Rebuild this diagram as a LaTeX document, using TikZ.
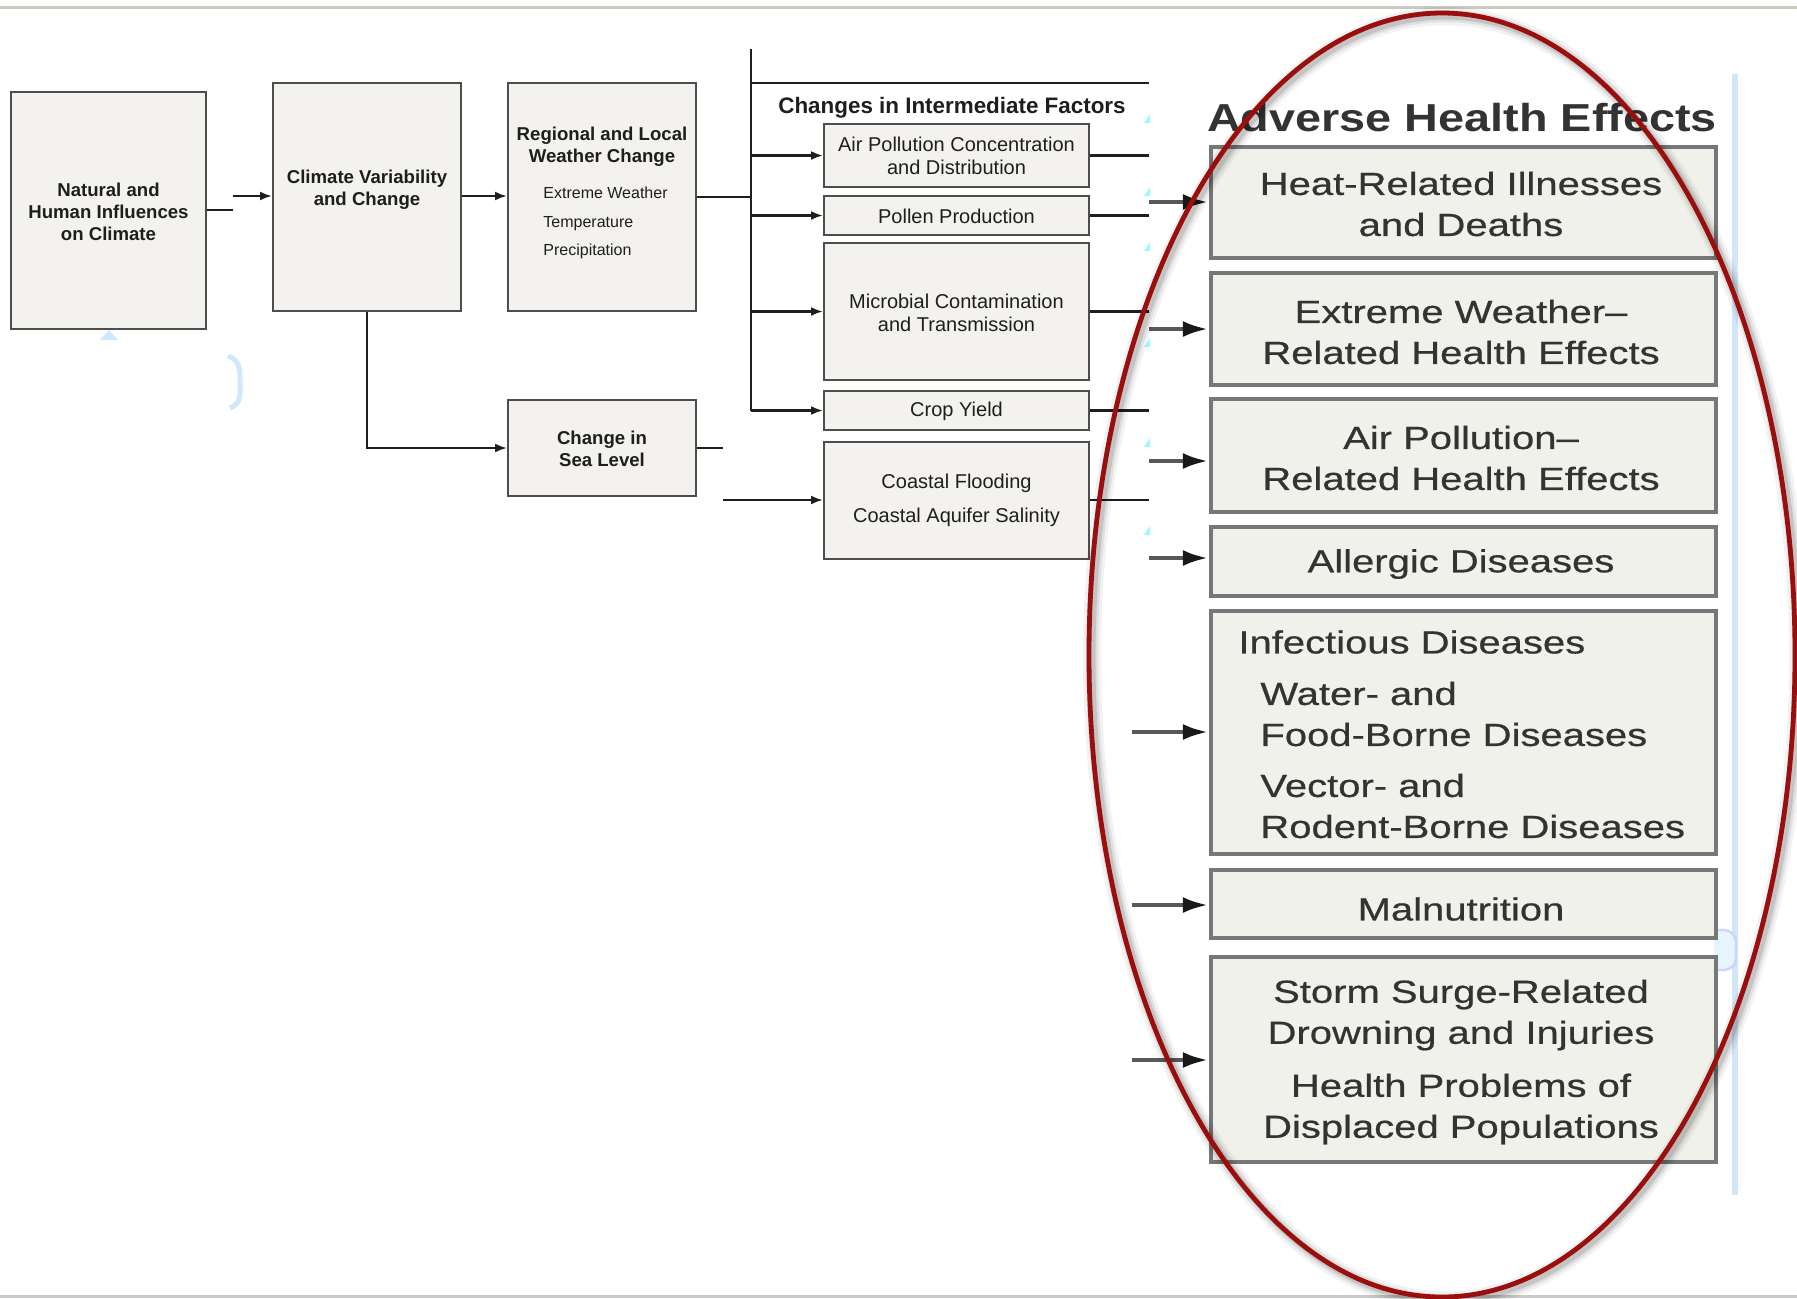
\documentclass[tikz,border=0pt]{standalone}
\usepackage{fontspec}
\setmainfont{Liberation Sans}
\newfontfamily\widefont[FakeStretch=1.25,FakeBold=0.6]{Liberation Sans}
\newfontfamily\headfont[FakeStretch=1.2]{Liberation Sans}
\usetikzlibrary{arrows.meta}

\definecolor{boxfill}{HTML}{F3F2EE}
\definecolor{boxline}{HTML}{4D4D4D}
\definecolor{ink}{HTML}{1E1E1E}
\definecolor{rfill}{HTML}{F1F1EC}
\definecolor{rline}{HTML}{777777}
\definecolor{rink}{HTML}{333333}
\definecolor{oval}{HTML}{9A0E0E}
\definecolor{rulegray}{HTML}{C9C9C0}
\definecolor{ghost}{HTML}{CDE9FB}
\definecolor{ghostline}{HTML}{D3E5F8}

\tikzset{
  lbox/.style={draw=boxline, fill=boxfill, line width=1pt, inner sep=0pt},
  rbox/.style={draw=rline, fill=rfill, line width=2.2pt, inner sep=0pt},
  ltitle/.style={font=\fontsize{9.3}{11}\selectfont\bfseries, text=ink, align=center, inner sep=0pt},
  litem/.style={font=\fontsize{8}{14.3}\selectfont, text=ink, align=left, inner sep=0pt, anchor=west},
  mtext/.style={font=\fontsize{10}{11.5}\selectfont, text=ink, align=center, inner sep=0pt},
  rtext/.style={font=\widefont\fontsize{16}{20.5}\selectfont, text=rink, align=center, inner sep=0pt},
  lline/.style={draw=ink, line width=1.1pt},
  larrow/.style={lline, -{Latex[length=6pt,width=4.5pt]}},
  rarrow/.style={draw=black!65, line width=2.4pt, -{Latex[length=13pt,width=8pt,color=black!90]}},
}

\begin{document}
\begin{tikzpicture}[x=0.5pt, y=-0.5pt]
\useasboundingbox (0,0) rectangle (1797,1298);

% page rules
\draw[rulegray, line width=1.5pt] (0,7) -- (1797,7);
\draw[rulegray, line width=1.5pt] (0,1296) -- (1797,1296);

% ---------------- left chain ----------------
\node[lbox, minimum width=97.5pt, minimum height=118.5pt] (nat) at (108.5,210.5) {};
\node[ltitle] (natT) at (108.5,212) {Natural and\\Human Influences\\on Climate};

\node[lbox, minimum width=94pt, minimum height=114pt] (clim) at (367,197) {};
\node[ltitle] (climT) at (367,190) {Climate Variability\\and Change};

\node[lbox, minimum width=94pt, minimum height=114pt] (wx) at (602,197) {};
\node[ltitle] (wxT) at (602,147) {Regional and Local\\Weather Change};
\node[litem] (wxI) at (543,223) {Extreme Weather\\Temperature\\Precipitation};

\node[lbox, minimum width=94pt, minimum height=48pt] (sea) at (602,448) {};
\node[ltitle] (seaT) at (602,449) {Change in\\Sea Level};

% faint leftovers under the first box
\fill[ghost] (100,340) -- (109,330) -- (118,340) -- cycle;
\draw[ghost, line width=2.5pt] (228,356) .. controls (240,360) and (240,370) .. (240,380)
      -- (240,392) .. controls (240,402) and (236,406) .. (230,408);

% connectors of the left chain
\coordinate (j1a) at (233,210);
\coordinate (j1b) at (233,196);
\draw[lline] (nat.east |- j1a) -- (j1a);
\draw[larrow] (j1b) -- (clim.west |- j1b);
\draw[larrow] (clim.east |- j1b) -- (wx.west |- j1b);
\draw[larrow] (clim.south) |- (sea.west);

% ---------------- intermediate factors ----------------
\coordinate (trunkTop) at (751,49);
\coordinate (cut) at (1149,83);
\coordinate (seaJog) at (723,448);
\coordinate (seaIn) at (723,500);

\node[font=\fontsize{11.2}{13}\selectfont\bfseries, text=ink, inner sep=0pt] (ifT) at (952,108)
  {Changes in Intermediate Factors};

\node[lbox, minimum width=132.5pt, minimum height=31.5pt] (ia) at (956.5,155.5) {};
\node[mtext] (iaT) at (956.5,156) {Air Pollution Concentration\\and Distribution};
\node[lbox, minimum width=132.5pt, minimum height=19.5pt] (ib) at (956.5,215.5) {};
\node[mtext] (ibT) at (956.5,216) {Pollen Production};
\node[lbox, minimum width=132.5pt, minimum height=68.5pt] (ic) at (956.5,311.5) {};
\node[mtext] (icT) at (956.5,313) {Microbial Contamination\\and Transmission};
\node[lbox, minimum width=132.5pt, minimum height=19.5pt] (id) at (956.5,410.5) {};
\node[mtext] (idT) at (956.5,411) {Crop Yield};
\node[lbox, minimum width=132.5pt, minimum height=58.5pt] (ie) at (956.5,500.5) {};
\node[mtext, font=\fontsize{10}{17}\selectfont] (ieT) at (956.5,500) {Coastal Flooding\\Coastal Aquifer Salinity};

% trunk and header rule
\draw[lline] (trunkTop) -- (trunkTop |- id.west);
\draw[lline] (trunkTop |- cut) -- (cut);
\draw[lline] (wx.east) -- (trunkTop |- wx.east);
\foreach \b in {ia,ib,ic,id}{
  \draw[larrow] (trunkTop |- \b.west) -- (\b.west);
  \draw[lline] (\b.east) -- (cut |- \b.east);
}
\draw[lline] (sea.east) -- (seaJog);
\draw[larrow] (seaIn) -- (ie.west |- seaIn);
\draw[lline] (ie.east |- seaIn) -- (cut |- seaIn);

% small blue marks along the cut edge
\foreach \yy in {119,192,247,343,443,531}{
  \fill[ghost!60!cyan!70] (1144,\yy+4) -- (1150,\yy-5) -- (1150,\yy+4) -- cycle;
}

% ---------------- adverse health effects ----------------
\draw[ghostline, line width=3pt] (1735,74) -- (1735,1195);
\draw[ghostline!80!blue!60, line width=1.2pt, rounded corners=6pt, fill=ghost!50]
  (1714,930) -- (1736,930) -- (1736,970) -- (1714,970);

\node[font=\headfont\fontsize{19.5}{22}\selectfont\bfseries, text=black!80, inner sep=0pt] (ahT) at (1462,118)
  {Adverse Health Effects};

\node[rbox, minimum width=252.5pt, minimum height=55.5pt] (r1) at (1463.5,202.5) {};
\node[rtext] (r1T) at (1461,204) {Heat-Related Illnesses\\and Deaths};
\node[rbox, minimum width=252.5pt, minimum height=56pt] (r2) at (1463.5,329) {};
\node[rtext] (r2T) at (1461,332) {Extreme Weather–\\Related Health Effects};
\node[rbox, minimum width=252.5pt, minimum height=56.5pt] (r3) at (1463.5,455.5) {};
\node[rtext] (r3T) at (1461,458) {Air Pollution–\\Related Health Effects};
\node[rbox, minimum width=252.5pt, minimum height=34.5pt] (r4) at (1463.5,561.5) {};
\node[rtext] (r4T) at (1461,564) {Allergic Diseases};
\node[rbox, minimum width=252.5pt, minimum height=121.5pt] (r5) at (1463.5,732.5) {};
\node[rtext, anchor=west] (r5T) at (1238,642) {Infectious Diseases};
\node[rtext, anchor=west, align=left] (r5S) at (1260,760)
  {Water- and\\Food-Borne Diseases\\[5pt]Vector- and\\Rodent-Borne Diseases};
\node[rbox, minimum width=252.5pt, minimum height=34pt] (r6) at (1463.5,904) {};
\node[rtext] (r6T) at (1461,909) {Malnutrition};
\node[rbox, minimum width=252.5pt, minimum height=102.5pt] (r7) at (1463.5,1059.5) {};
\node[rtext] (r7T) at (1461,1062)
  {Storm Surge-Related\\Drowning and Injuries\\[6pt]Health Problems of\\Displaced Populations};

% feeds into the outcome column
\coordinate (f1) at (1149,202);
\coordinate (f2) at (1149,329);
\coordinate (f3) at (1149,461);
\coordinate (f4) at (1149,558);
\coordinate (f5) at (1132,732);
\coordinate (f6) at (1132,905);
\coordinate (f7) at (1132,1060);
\draw[rarrow] (f1) -- (r1.west |- f1);
\draw[rarrow] (f2) -- (r2.west |- f2);
\draw[rarrow] (f3) -- (r3.west |- f3);
\draw[rarrow] (f4) -- (r4.west |- f4);
\draw[rarrow] (f5) -- (r5.west |- f5);
\draw[rarrow] (f6) -- (r6.west |- f6);
\draw[rarrow] (f7) -- (r7.west |- f7);

% ---------------- highlight oval ----------------
\foreach \w/\o in {9pt/0.05, 6pt/0.08, 3.5pt/0.12}{
  \draw[black, opacity=\o, line width=\w] (1445,658) ellipse [x radius=176.5pt, y radius=321pt];
}
\draw[oval, line width=2.4pt] (1442,655) ellipse [x radius=176.5pt, y radius=321pt];
\end{tikzpicture}
\end{document}
